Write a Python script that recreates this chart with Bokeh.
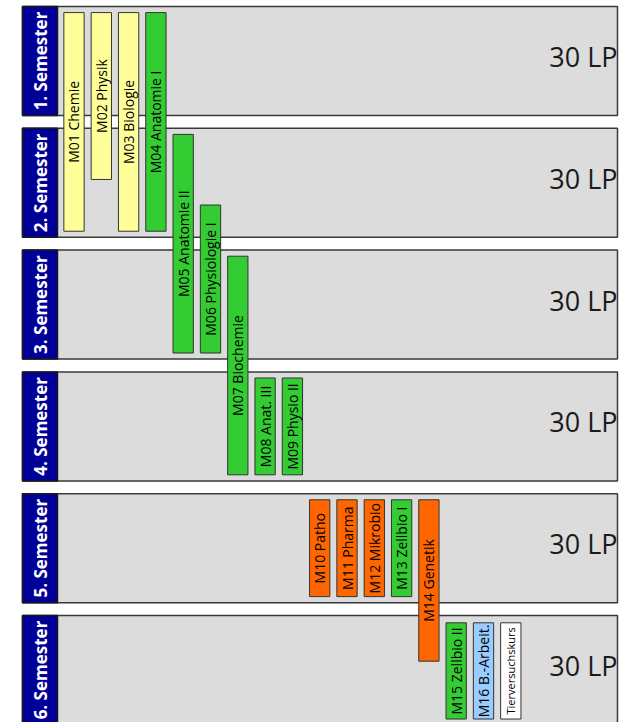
from math import pi
from bokeh.plotting import figure
from bokeh.models import ColumnDataSource, Range1d
from bokeh.core.properties import value
from bokeh.embed import file_html
from bokeh.resources import INLINE

# ---- data ----
semesters = ["1. Semester", "2. Semester", "3. Semester", "4. Semester", "5. Semester", "6. Semester"]
credits = ["30 LP", "30 LP", "30 LP", "30 LP", "30 LP", "30 LP"]

modules = ["M01 Chemie", "M02 Physik", "M03 Biologie", "M04 Anatomie I",
           "M05 Anatomie II", "M06 Physiologie I", "M07 Biochemie",
           "M08 Anat. III", "M09 Physio II", "M10 Patho", "M11 Pharma",
           "M12 Mikrobio", "M13 Zellbio I", "M14 Genetik", "M15 Zellbio II",
           "M16 B.-Arbeit.", "Tierversuchskurs"]
# start / end of each module, in semesters (0 = beginning of 1st semester)
mod_start = [0.05, 0.05, 0.05, 0.05, 1.05, 1.63, 2.05, 3.05, 3.05,
             4.05, 4.05, 4.05, 4.05, 4.05, 5.06, 5.06, 5.06]
mod_end = [1.845, 1.42, 1.845, 1.845, 2.845, 2.845, 3.845, 3.845, 3.845,
           4.845, 4.845, 4.845, 4.845, 5.375, 5.85, 5.85, 5.85]
mod_group = ["Grundlagen", "Grundlagen", "Grundlagen", "Bio", "Bio", "Bio", "Bio",
             "Bio", "Bio", "Med", "Med", "Med", "Bio", "Med", "Bio", "Arbeit", "Kurs"]

group_colors = {"Grundlagen": "#FFFF99", "Bio": "#33CC33", "Med": "#FF6600",
                "Arbeit": "#99CCFF", "Kurs": "#FFFFFF"}

# ---- layout constants ----
SEM_H = 0.895          # visible height of a semester box (pitch = 1)
BAR_W = 0.744          # bar width in module slots
BOX_L, BLUE_R, BOX_R = -1.886, -0.604, 19.908

p = figure(width=630, height=722, output_backend="svg", toolbar_location=None,
           x_range=Range1d(-2.6923, 20.3846), y_range=Range1d(5.8785, -0.04926),
           min_border=0, min_border_left=0, min_border_right=0,
           min_border_top=0, min_border_bottom=0)
p.xaxis.visible = False
p.yaxis.visible = False
p.grid.visible = False
p.outline_line_color = None
p.background_fill_color = "white"
p.border_fill_color = "white"

n = len(semesters)
tops = [float(k) for k in range(n)]
bots = [k + SEM_H for k in range(n)]
sem_src = ColumnDataSource(dict(
    top=tops, bottom=bots, mid=[(t + b) / 2 for t, b in zip(tops, bots)],
    lp_y=[t + 0.41 for t in tops], label=semesters, lp=credits))

# grey semester boxes
p.quad(left=BOX_L, right=BOX_R, top="top", bottom="bottom", source=sem_src,
       fill_color="#DCDCDC", line_color="#3A3A3A", line_width=1.5)
# blue label strips
p.quad(left=BOX_L, right=BLUE_R, top="top", bottom="bottom", source=sem_src,
       fill_color="#000099", line_color="#1A1A1A", line_width=1.5)
p.text(x=(BOX_L + BLUE_R) / 2, y="mid", text="label", source=sem_src, angle=pi / 2,
       text_align="center", text_baseline="middle", text_color="white",
       text_font=value("Open Sans"), text_font_style="bold", text_font_size="17px")
p.text(x=BOX_R, y="lp_y", text="lp", source=sem_src,
       text_align="right", text_baseline="alphabetic", text_color="#1A1A1A",
       text_font=value("Open Sans"), text_font_size="27px")

# module bars
idx = list(range(len(modules)))
mod_src = ColumnDataSource(dict(
    x=idx, left=[i - BAR_W / 2 for i in idx], right=[i + BAR_W / 2 for i in idx],
    top=mod_start, bottom=mod_end,
    mid=[(s + e) / 2 for s, e in zip(mod_start, mod_end)],
    name=modules, color=[group_colors[g] for g in mod_group],
    fs=["11px" if g == "Kurs" else "14px" for g in mod_group]))

p.quad(left="left", right="right", top="top", bottom="bottom", source=mod_src,
       fill_color="color", line_color="#333333", line_width=1)
p.text(x="x", y="mid", text="name", source=mod_src, angle=pi / 2,
       text_align="center", text_baseline="middle", text_color="black",
       text_font=value("Open Sans"), text_font_size="fs")

open("out.html", "w").write(file_html(p, INLINE))
